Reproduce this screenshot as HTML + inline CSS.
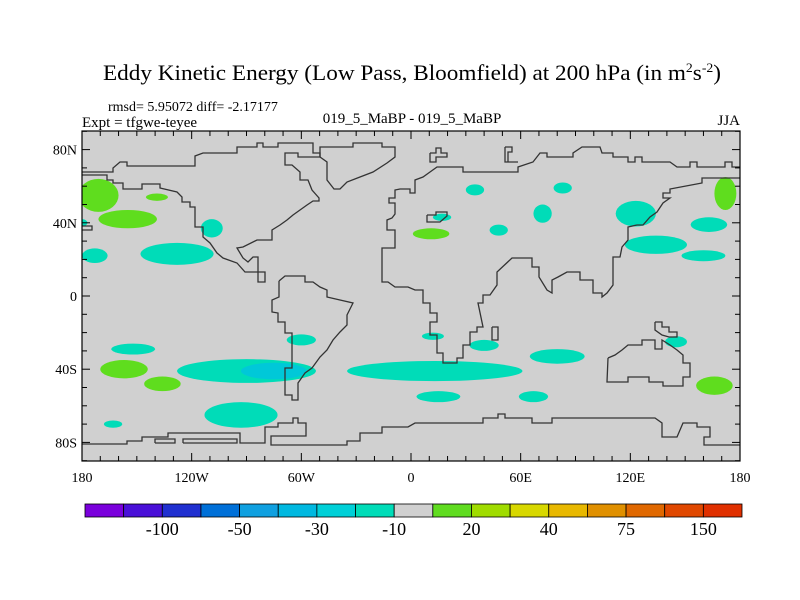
<!DOCTYPE html>
<html><head><meta charset="utf-8">
<style>
html,body{margin:0;padding:0;background:#fff;}
svg{display:block;font-family:"Liberation Serif",serif;}
</style></head>
<body>
<svg id="chart" width="800" height="600" viewBox="0 0 800 600" xmlns="http://www.w3.org/2000/svg">
<text x="412" y="80" font-size="22" text-anchor="middle" textLength="618" lengthAdjust="spacingAndGlyphs">Eddy Kinetic Energy (Low Pass, Bloomfield) at 200 hPa (in m<tspan dy="-8" font-size="13">2</tspan><tspan dy="8">s</tspan><tspan dy="-8" font-size="13">-2</tspan><tspan dy="8">)</tspan></text>
<text x="108" y="111" font-size="14">rmsd= 5.95072 diff= -2.17177</text>
<text x="82" y="127" font-size="15">Expt = tfgwe-teyee</text>
<text x="412" y="123" font-size="15" text-anchor="middle">019_5_MaBP - 019_5_MaBP</text>
<text x="740" y="125" font-size="15" text-anchor="end">JJA</text>
<defs><clipPath id="mc"><rect x="82" y="131" width="658" height="330"/></clipPath></defs>
<rect x="82" y="131" width="658" height="330" fill="#d0d0d0"/>
<g id="blobs" clip-path="url(#mc)"></g>
<g id="coast" clip-path="url(#mc)" fill="none" stroke="#333" stroke-width="1.3"></g>
<rect x="82" y="131" width="658" height="330" fill="none" stroke="#000" stroke-width="1.2"/>
<g id="ticks" stroke="#000" stroke-width="1"></g>
<g id="labels" font-size="14"></g>
<g id="cbar"></g>
</svg>
<script>
// ---- data ----
const lonTicks = [-180,-120,-60,0,60,120,180];
const lonTickLabels = ['180','120W','60W','0','60E','120E','180'];
const latTicks = [80,40,0,-40,-80];
const latTickLabels = ['80N','40N','0','40S','80S'];
const cbarColors = ['#7a00dc','#4a10d8','#2030d0','#0070d8','#10a0e0','#00b8e0','#00d0d8','#00dcb8','#d0d0d0','#60dc20','#a0dc00','#d8d800','#e8b800','#e09000','#e06800','#e04800','#e03000'];
const cbarLabels = ['-100','-50','-30','-10','20','40','75','150'];
// anomaly centers (lon, lat), extents (deg) and values
const blobLon = [-171,-139,-155,-109,-128,-173,35,83,72,48,17,11,123,172,163,134,160,-152,-157,-136,-90,-75,-60,-93,-163,13,12,40,15,67,80,145,166,-180];
const blobLat = [55,54,42,37,23,22,58,59,45,36,43,34,45,56,39,28,22,-29,-40,-48,-41,-41,-24,-65,-70,-41,-22,-27,-55,-55,-33,-25,-49,40];
const blobRx  = [11,6,16,6,20,7,5,5,5,5,5,10,11,6,10,17,12,12,13,10,38,18,8,20,5,48,6,8,12,8,15,6,10,3];
const blobRy  = [9,2,5,5,6,4,3,3,5,3,2,3,7,9,4,5,3,3,5,4,6.5,4.5,3,7,2,5.5,2,3,3,3,4,3,5,2];
const blobVal = [15,15,15,-15,-15,-15,-15,-15,-15,-15,-15,15,-15,15,-15,-15,-15,-15,15,15,-15,-25,-15,-15,-15,-15,-15,-15,-15,-15,-15,-15,15,-15];

const X0=82, W=658, Y0=296, KY=1.83;
function px(lon){return X0+(lon+180)*W/360;}
function py(lat){return Y0-lat*KY;}
function color(v){ if(v>=10&&v<20) return '#5fdd1e'; if(v<=-10&&v>-20) return '#00dcb8'; if(v<=-20&&v>-30) return '#00c8d8'; return '#d0d0d0';}
const NS='http://www.w3.org/2000/svg';
function mk(tag,attrs,parent){const e=document.createElementNS(NS,tag);for(const k in attrs)e.setAttribute(k,attrs[k]);parent.appendChild(e);return e;}

const gB=document.getElementById('blobs');
for(let i=0;i<blobLon.length;i++){
  const e=mk('ellipse',{cx:px(blobLon[i]),cy:py(blobLat[i]),rx:blobRx[i]*W/360,ry:blobRy[i]*KY,fill:color(blobVal[i])},gB);
  
  
}

// coastlines (stair-step outlines, pixel space)
const coasts=[
 [[82,175],[107,175],[107,180],[113,180],[113,183],[123,183],[123,189],[142,189],[142,184],[160,184],[160,188],[177,192],[182,197],[182,202],[190,202],[190,207],[195,207],[195,227],[203,227],[203,237],[210,243],[217,253],[223,258],[237,263],[245,272],[265,272],[265,282],[258,282],[258,257],[253,257],[248,262],[243,258],[237,248],[243,247],[257,240],[272,240],[272,230],[280,225],[287,220],[293,215],[300,210],[307,205],[313,201],[319,201],[319,198],[312,190],[308,180],[300,180],[300,172],[292,165],[285,165],[285,153],[298,153],[298,157],[320,157],[320,153],[313,153],[313,143],[278,143],[278,147],[263,147],[263,143],[257,143],[257,147],[237,147],[237,153],[203,153],[195,156],[195,166],[127,166],[127,162],[120,162],[113,168],[113,172],[82,172]],
 [[320,157],[327,162],[327,180],[334,189],[340,189],[347,182],[360,177],[373,172],[387,163],[395,157],[395,147],[382,147],[382,143],[353,143],[353,147],[320,147],[320,157]],
 [[740,167],[732,167],[732,162],[725,162],[725,167],[697,167],[697,162],[690,162],[690,167],[677,167],[670,162],[642,162],[642,157],[635,157],[635,162],[628,162],[628,157],[613,157],[613,153],[602,153],[600,147],[582,147],[573,153],[573,157],[547,157],[547,153],[540,153],[533,162],[518,167],[518,172],[463,172],[463,167],[437,167],[430,172],[423,177],[415,180],[415,193],[410,193],[410,189],[400,189],[395,190],[395,198],[389,198],[389,203],[395,203],[395,214],[392,218],[387,220],[387,230],[395,230],[395,248],[382,248],[382,282],[388,282],[395,287],[408,287],[415,290],[423,290],[423,303],[430,303],[430,313],[437,313],[437,322],[430,322],[430,335],[437,335],[437,353],[443,353],[443,363],[457,363],[457,358],[463,358],[463,345],[470,345],[470,332],[477,332],[477,327],[483,327],[478,303],[483,303],[483,295],[490,295],[497,285],[497,272],[512,258],[532,258],[532,267],[539,267],[539,277],[547,290],[552,293],[552,280],[558,277],[567,272],[580,272],[580,280],[593,280],[593,293],[602,293],[602,297],[607,293],[613,285],[613,257],[620,257],[622,247],[628,240],[628,227],[637,225],[643,225],[650,217],[657,212],[663,203],[670,198],[663,198],[663,193],[670,193],[670,189],[702,183],[702,178],[740,178]],
 [[279,281],[285,276],[305,276],[305,282],[313,282],[320,287],[327,290],[327,297],[340,300],[353,303],[347,315],[347,325],[340,332],[333,340],[327,350],[320,357],[312,368],[305,373],[298,383],[298,400],[292,400],[292,395],[285,395],[285,368],[292,368],[292,333],[285,333],[285,322],[278,322],[278,313],[272,312],[272,300],[279,297],[279,281]],
 [[608,358],[615,355],[622,350],[628,345],[642,345],[642,340],[655,340],[655,349],[662,349],[662,340],[670,345],[677,350],[683,355],[683,363],[690,363],[690,377],[683,377],[683,386],[663,386],[663,382],[649,382],[649,377],[628,377],[628,382],[607,382],[608,358]],
 [[655,322],[662,322],[662,327],[669,327],[669,332],[677,332],[677,337],[669,337],[662,335],[655,330],[655,322]],
 [[492,327],[498,327],[498,340],[492,340],[492,327]],
 [[82,444],[127,444],[127,441],[142,441],[142,437],[168,437],[168,433],[210,433],[240,433],[240,443],[265,443],[265,427],[278,427],[278,423],[293,423],[293,418],[298,418],[298,423],[306,423],[306,436],[271,436],[271,445],[347,445],[347,441],[360,441],[360,433],[382,433],[382,427],[408,427],[415,423],[483,423],[483,418],[498,418],[498,414],[505,414],[505,418],[532,418],[532,423],[552,423],[552,418],[655,418],[662,423],[662,437],[677,437],[683,423],[697,423],[697,427],[710,427],[710,437],[704,437],[704,445],[742,445]],
 [[155,443],[175,443],[175,439],[155,439],[155,443]],
 [[183,443],[237,443],[237,439],[183,439],[183,443]],
 [[427,215],[436,215],[436,212],[447,212],[447,216],[440,222],[427,222],[427,215]],
 [[430,153],[436,153],[436,148],[441,148],[441,153],[447,153],[447,157],[436,157],[436,162],[430,162],[430,153]],
 [[505,147],[512,147],[512,152],[508,152],[508,162],[518,162],[505,162],[505,147]],
 [[82,230],[92,230],[92,226],[82,226]]
];
const gC=document.getElementById('coast');
coasts.forEach(c=>{
  const p=mk('polyline',{points:c.map(q=>q.join(',')).join(' ')},gC);
  
  
});

// ticks
const gT=document.getElementById('ticks');
for(let lon=-180;lon<=180;lon+=10){
  const maj=(lon%60===0), L=maj?8:5, x=px(lon);
  mk('line',{x1:x,y1:131,x2:x,y2:131+L},gT);
  mk('line',{x1:x,y1:461,x2:x,y2:461-L},gT);
}
for(let lat=-90;lat<=90;lat+=10){
  const maj=(lat%40===0), L=maj?8:5, y=py(lat);
  if(y<131||y>461) continue;
  mk('line',{x1:82,y1:y,x2:82+L,y2:y},gT);
  mk('line',{x1:740,y1:y,x2:740-L,y2:y},gT);
}
const gL=document.getElementById('labels');
lonTicks.forEach((v,i)=>{
  const t=mk('text',{x:px(v),y:482,'text-anchor':'middle'},gL);
  t.textContent=lonTickLabels[i];
  
  
});
latTicks.forEach((v,i)=>{
  const t=mk('text',{x:77,y:py(v)+5,'text-anchor':'end'},gL);
  t.textContent=latTickLabels[i];
  
  
});

// colorbar
const gCB=document.getElementById('cbar');
const cbX=85, cbW=657/17, cbY=504, cbH=13;
cbarColors.forEach((c,i)=>{
  const r=mk('rect',{x:cbX+i*cbW,y:cbY,width:cbW,height:cbH,fill:c,stroke:'#000','stroke-width':0.8},gCB);
  
  
});
cbarLabels.forEach((s,i)=>{
  const t=mk('text',{x:cbX+(2+2*i)*cbW,y:535,'text-anchor':'middle','font-size':18},gCB);
  t.textContent=s;
  
  
});
</script>
</body></html>
